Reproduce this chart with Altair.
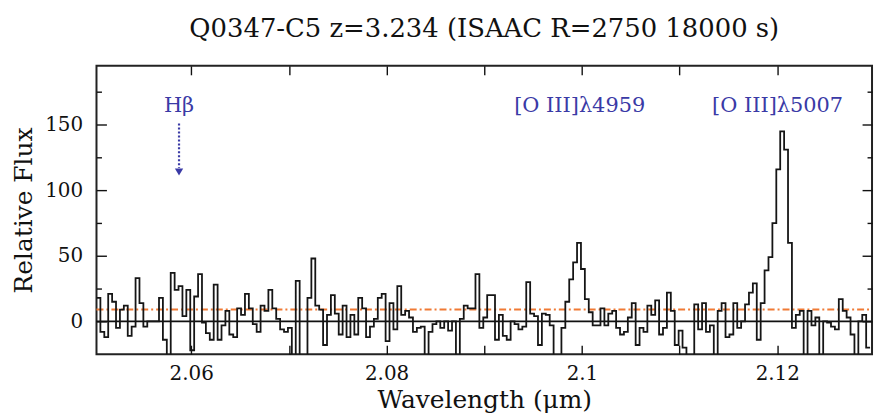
import altair as alt
import pandas as pd
import numpy as np

# ---- data ----
WAVE_START = 2.0503          # micron, left edge of first pixel
BIN_WIDTH = 0.0004           # micron per spectral pixel
flux = [
    18, -8, -12, 21, 15, -5, 9, 12, -11, -4,
    33, 14, -4, 0, 0, 0, 18, -14, -30, 37,
    24, 27, 4, 24, -22, 19, 36, -1, -9, -14,
    28, -14, -3, 8, -10, -12, 10, 5, 21, 10,
    -2, -8, 12, 8, 24, 10, 2, -6, -8, -5,
    -30, 31, -30, -30, 18, 48, 12, 9, -18, 5,
    20, 6, -10, 12, -12, 5, -10, 18, 10, -12,
    -4, 2, 18, 21, -15, 14, -6, 27, 5, 8,
    3, -8, -5, -4, -30, -8, -2, 0, -5, 0,
    -7, 0, -30, 2, 12, 10, 10, 36, -5, 3,
    20, 20, -14, 5, -11, -14, 0, -2, -6, -4,
    30, 6, 4, -18, 6, 5, -3, -30, -30, -5,
    15, 32, 45, 60, 40, 17, 7, -3, -3, 10,
    -3, 6, 8, -5, -10, -8, 3, 14, -18, -5,
    -8, 12, 5, 16, -10, -5, 22, 8, -18, -7,
    -20, -30, -30, 13, -6, 14, -8, -3, -30, 8,
    14, -12, -10, 14, -5, 0, 13, 22, 29, -14,
    14, 39, 49, 75, 116, 145, 131, 60, -5, 5,
    8, -30, 8, -3, 3, -30, 0, -1, -4, -6,
    17, 8, 3, -10, -30, 0, 5, -20,
]
noise_level = 9              # orange dash-dot level
x_domain = [2.0503, 2.1297]
y_domain = [-25, 195]
x_ticks = [2.06, 2.07, 2.08, 2.09, 2.10, 2.11, 2.12]
y_major = [0, 50, 100, 150]
y_minor = [25, 75, 125, 175]
line_labels = ["H\u03b2", "[O III]\u03bb4959", "[O III]\u03bb5007"]
line_label_wave = [2.05875, 2.09977, 2.12003]
line_label_flux = [164, 164, 164]
arrow_wave = [2.05875]
arrow_top = [151]
arrow_bottom = [117]
arrow_tip = [114]

# ---- tables ----
edges = WAVE_START + BIN_WIDTH * np.arange(len(flux) + 1)
spec = pd.DataFrame({"wave": edges, "flux": flux + [flux[-1]]})
noise = pd.DataFrame({"wave": x_domain, "flux": [noise_level] * 2})
labels = pd.DataFrame({"wave": line_label_wave, "flux": line_label_flux, "text": line_labels})
arrow = pd.DataFrame({"wave": arrow_wave, "top": arrow_top, "bottom": arrow_bottom, "tip": arrow_tip})

FONT = "DejaVu Serif"
BLUE = "#3a3aa6"
xs = alt.Scale(domain=x_domain, nice=False, zero=False)
ys = alt.Scale(domain=y_domain, nice=False, zero=False)

label_expr = "abs(datum.value*100 - 2*round(datum.value*50)) < 0.01 ? format(datum.value, '~g') : ''"

common = dict(domain=False, grid=False, tickColor="#111", tickWidth=1.4,
              labelFont=FONT, labelColor="#111", titleFont=FONT, titleColor="#111",
              titleFontWeight="normal")

x_bottom = alt.Axis(orient="bottom", values=x_ticks, labelExpr=label_expr, tickSize=9, offset=-9,
                    labelPadding=9, labelFontSize=20, title="Wavelength (\u03bcm)", titleFontSize=25,
                    titlePadding=5, **common)
y_left = alt.Axis(orient="left", values=y_major, tickSize=10, offset=-10, labelPadding=14,
                  labelFontSize=20, title="Relative Flux", titleFontSize=25, titlePadding=8, **common)
x_top = alt.Axis(orient="top", values=x_ticks, labels=False, tickSize=9, offset=-9, title=None, **common)
y_right = alt.Axis(orient="right", values=y_major, labels=False, tickSize=10, offset=-10, title=None, **common)
y_left_minor = alt.Axis(orient="left", values=y_minor, labels=False, tickSize=5, offset=-5, title=None, **common)
y_right_minor = alt.Axis(orient="right", values=y_minor, labels=False, tickSize=5, offset=-5, title=None, **common)

zero = alt.Chart(noise).mark_line(color="#111", strokeWidth=1.6).encode(
    x=alt.X("wave:Q", scale=xs, axis=None),
    y=alt.Y("zero:Q", scale=ys, axis=None),
).transform_calculate(zero="0")

noise_line = alt.Chart(noise).mark_line(color="#f07a35", strokeWidth=2, strokeDash=[7, 3, 2, 3]).encode(
    x=alt.X("wave:Q", scale=xs, axis=x_top),
    y=alt.Y("flux:Q", scale=ys, axis=y_right),
)

spectrum = alt.Chart(spec).mark_line(color="#151515", strokeWidth=1.8, interpolate="step-after", clip=True).encode(
    x=alt.X("wave:Q", scale=xs, axis=x_bottom),
    y=alt.Y("flux:Q", scale=ys, axis=y_left),
)

text = alt.Chart(labels).mark_text(font=FONT, fontSize=21, color=BLUE, align="center", baseline="middle").encode(
    x=alt.X("wave:Q", scale=xs, axis=None),
    y=alt.Y("flux:Q", scale=ys, axis=y_left_minor),
    text="text:N",
)

arrow_line = alt.Chart(arrow).mark_rule(color=BLUE, strokeWidth=2.2, strokeDash=[2, 2]).encode(
    x=alt.X("wave:Q", scale=xs, axis=None),
    y=alt.Y("top:Q", scale=ys, axis=y_right_minor),
    y2="bottom:Q",
)

arrow_head = alt.Chart(arrow).mark_point(shape="triangle-down", filled=True, color=BLUE, size=70, opacity=1).encode(
    x=alt.X("wave:Q", scale=xs, axis=None),
    y=alt.Y("tip:Q", scale=ys, axis=None),
)

chart = alt.layer(zero, noise_line, spectrum, text, arrow_line, arrow_head).resolve_scale(
    x="shared", y="shared"
).resolve_axis(
    x="independent", y="independent"
).properties(
    width=780, height=290,
    autosize=alt.AutoSizeParams(type="none"),
    padding={"left": 89, "top": 57, "right": 4, "bottom": 60},
    title=alt.TitleParams("Q0347-C5 z=3.234 (ISAAC R=2750 18000 s)", font=FONT, fontSize=26,
                          fontWeight="normal", color="#111", anchor="middle", offset=23),
).configure_view(stroke="#222", strokeWidth=2)

chart.save("out.html", embed_options={"renderer": "svg", "actions": False})
